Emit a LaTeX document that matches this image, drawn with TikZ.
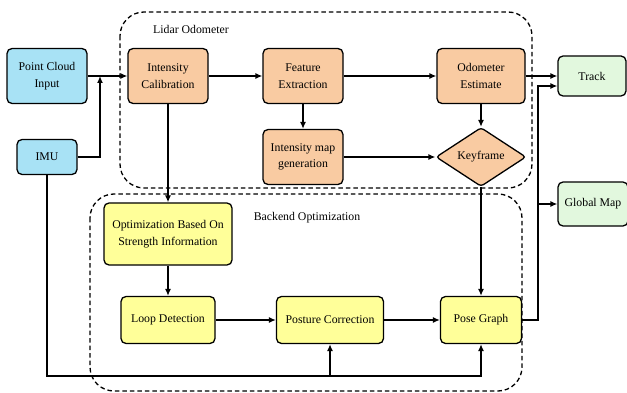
\documentclass[tikz,border=0pt]{standalone}
\usepackage{fontspec}
\setmainfont{Liberation Serif}
\usetikzlibrary{shapes.geometric, arrows.meta}

\definecolor{inblue}{RGB}{168,226,245}
\definecolor{odoorange}{RGB}{249,203,162}
\definecolor{backyellow}{RGB}{255,255,153}
\definecolor{outgreen}{RGB}{226,248,222}

\begin{document}
\begin{tikzpicture}[x=1pt, y=-1pt, >={Latex[length=7pt,width=6pt]}, line width=1.3pt,
    every node/.style={font=\fontsize{11.8}{16.5}\selectfont},
    block/.style={draw, rounded corners=5pt, align=center, minimum width=80pt, minimum height=55pt, inner sep=2pt},
    smallblock/.style={draw, rounded corners=5pt, align=center, minimum height=47pt, inner sep=2pt},
    group/.style={dashed, dash pattern=on 4.5pt off 3pt, rounded corners=24pt}]
    \useasboundingbox (0,0) rectangle (627,393);

    % Dashed groups
    \draw[group] (120,12) rectangle (532,188);
    \node (lidarlabel) at (191,29) {Lidar Odometer};
    \draw[group] (90,194) rectangle (522,391);
    \node (backlabel) at (307,218) {Backend Optimization};

    % Inputs
    \node[block, fill=inblue] (cloud) at (47,76) {Point Cloud\\Input};
    \node[block, fill=inblue, minimum width=60pt, minimum height=35pt] (imu) at (47,157) {IMU};

    % Lidar odometer
    \node[block, fill=odoorange] (calib) at (168,76) {Intensity\\Calibration};
    \node[block, fill=odoorange] (feature) at (303,76) {Feature\\Extraction};
    \node[block, fill=odoorange] (imap) at (303,157) {Intensity map\\generation};
    \node[block, fill=odoorange, minimum width=88pt] (odom) at (481,76) {Odometer\\Estimate};
    \node[draw, diamond, fill=odoorange, rounded corners=3pt, aspect=1.5, minimum width=90pt, minimum height=59pt, inner sep=1pt] (key) at (481,157) {Keyframe};

    % Backend optimization
    \node[smallblock, fill=backyellow, minimum width=128pt, minimum height=62pt] (opt) at (168,234) {Optimization Based On\\Strength Information};
    \node[smallblock, fill=backyellow, minimum width=94pt] (loop) at (168,320) {Loop Detection};
    \node[smallblock, fill=backyellow, minimum width=107pt] (posture) at (330,320) {Posture Correction};
    \node[smallblock, fill=backyellow, minimum width=81pt] (pose) at (481,320) {Pose Graph};

    % Outputs
    \node[block, fill=outgreen, minimum width=68pt, minimum height=40pt] (track) at (592,76) {Track};
    \node[block, fill=outgreen, minimum width=70pt, minimum height=44pt] (gmap) at (593,204) {Global Map};

    % Helper points
    \coordinate (join) at (100,76);
    \coordinate (imubus) at (481,376);
    \coordinate (imubranch) at (330,376);
    \coordinate (upbend) at (538,86);
    \coordinate (gmbranch) at (538,204);

    % Connections
    \draw[->] (cloud) -- (calib);
    \draw[->] (imu) -| (join);
    \draw[->] (calib) -- (feature);
    \draw[->] (feature) -- (imap);
    \draw[->] (feature) -- (odom);
    \draw[->] (odom) -- (key);
    \draw[->] (imap) -- (key);
    \draw[->] (odom) -- (track);
    \draw[->] (calib) -- (opt);
    \draw[->] (opt) -- (loop);
    \draw[->] (loop) -- (posture);
    \draw[->] (posture) -- (pose);
    \draw[->] (key) -- (pose);
    \draw[->] (imu) |- (imubus) -- (pose);
    \draw[->] (imubranch) -- (posture);
    \draw[->] (pose) -| (upbend) -- (track.west |- upbend);
    \draw[->] (gmbranch) -- (gmap);
\end{tikzpicture}
\end{document}
